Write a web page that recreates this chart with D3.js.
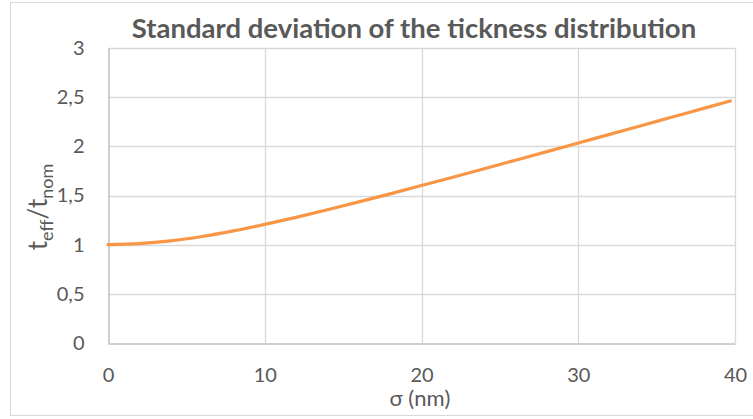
<!DOCTYPE html>
<html><head><meta charset="utf-8">
<script src="https://cdn.jsdelivr.net/npm/d3@7/dist/d3.min.js"></script>
<style>body{margin:0;background:#fff}svg{display:block}</style>
</head><body>
<svg id="c" width="753" height="419"></svg>
<script>
const sigma = [0, 2, 4, 6, 8, 10, 12, 14, 16, 18, 20, 22, 24, 26, 28, 30, 32, 34, 36, 38, 39.7];
const ratio = [1.000, 1.010, 1.038, 1.083, 1.140, 1.206, 1.278, 1.355, 1.435, 1.517, 1.601, 1.686, 1.772, 1.859, 1.946, 2.034, 2.122, 2.210, 2.298, 2.386, 2.461];
const xTicks = [0, 10, 20, 30, 40];
const yTicks = [0, 0.5, 1, 1.5, 2, 2.5, 3];
const title = "Standard deviation of the tickness distribution";

const svg = d3.select("#c");
const font = "Lato, 'Open Sans', sans-serif";
const txt = "#595959";
const m = {left: 108, right: 735, top: 48, bottom: 343};

svg.append("rect").attr("x", 10.5).attr("y", 2.5).attr("width", 760).attr("height", 413)
  .attr("fill", "#fff").attr("stroke", "#d9d9d9").attr("stroke-width", 1);

const x = d3.scaleLinear().domain([0, 40]).range([m.left, m.right]);
const y = d3.scaleLinear().domain([0, 3]).range([m.bottom, m.top]);

// gridlines
svg.append("g").selectAll("line").data(yTicks.filter(d => d > 0)).join("line")
  .attr("x1", m.left).attr("x2", m.right)
  .attr("y1", d => Math.round(y(d)) + 0.5).attr("y2", d => Math.round(y(d)) + 0.5)
  .attr("stroke", "#d9d9d9").attr("stroke-width", 1.3);
svg.append("g").selectAll("line").data(xTicks.filter(d => d > 0)).join("line")
  .attr("y1", m.top).attr("y2", m.bottom)
  .attr("x1", d => Math.round(x(d)) + 0.5).attr("x2", d => Math.round(x(d)) + 0.5)
  .attr("stroke", "#d9d9d9").attr("stroke-width", 1.3);

// axes
const fmt = d => String(d).replace(".", ",");
const xAxis = svg.append("g").attr("transform", `translate(0,${Math.round(y(0)) + 0.5})`)
  .call(d3.axisBottom(x).tickValues(xTicks).tickSize(0).tickPadding(24).tickFormat(fmt));
const yAxis = svg.append("g").attr("transform", `translate(${Math.round(x(0)) + 0.5},0)`)
  .call(d3.axisLeft(y).tickValues(yTicks).tickSize(0).tickPadding(24).tickFormat(fmt));
[xAxis, yAxis].forEach(a => {
  a.select(".domain").attr("stroke", "#bfbfbf").attr("stroke-width", 1.5);
  a.selectAll("text").attr("font-family", font).attr("font-size", 20).attr("fill", txt);
});

// line
const line = d3.line().x((d, i) => x(sigma[i])).y(d => y(d)).curve(d3.curveMonotoneX);
svg.append("path").datum(ratio).attr("d", line)
  .attr("fill", "none").attr("stroke", "#F79646").attr("stroke-width", 3.2)
  .attr("stroke-linecap", "round");

// title
svg.append("text").attr("x", 414).attr("y", 38).attr("text-anchor", "middle")
  .attr("font-family", font).attr("font-weight", "bold").attr("font-size", 27.5)
  .attr("fill", txt).text(title);

// x title
svg.append("text").attr("x", 420).attr("y", 406).attr("text-anchor", "middle")
  .attr("font-family", font).attr("font-size", 22).attr("fill", txt).text("σ (nm)");

// y title
const yt = svg.append("text").attr("transform", "translate(47,207) rotate(-90)")
  .attr("text-anchor", "middle").attr("font-family", font).attr("font-size", 26).attr("fill", txt);
yt.append("tspan").text("t");
yt.append("tspan").attr("font-size", 18).attr("dy", 6).text("eff");
yt.append("tspan").attr("dy", -6).text("/t");
yt.append("tspan").attr("font-size", 18).attr("dy", 6).text("nom");
</script>
</body></html>
